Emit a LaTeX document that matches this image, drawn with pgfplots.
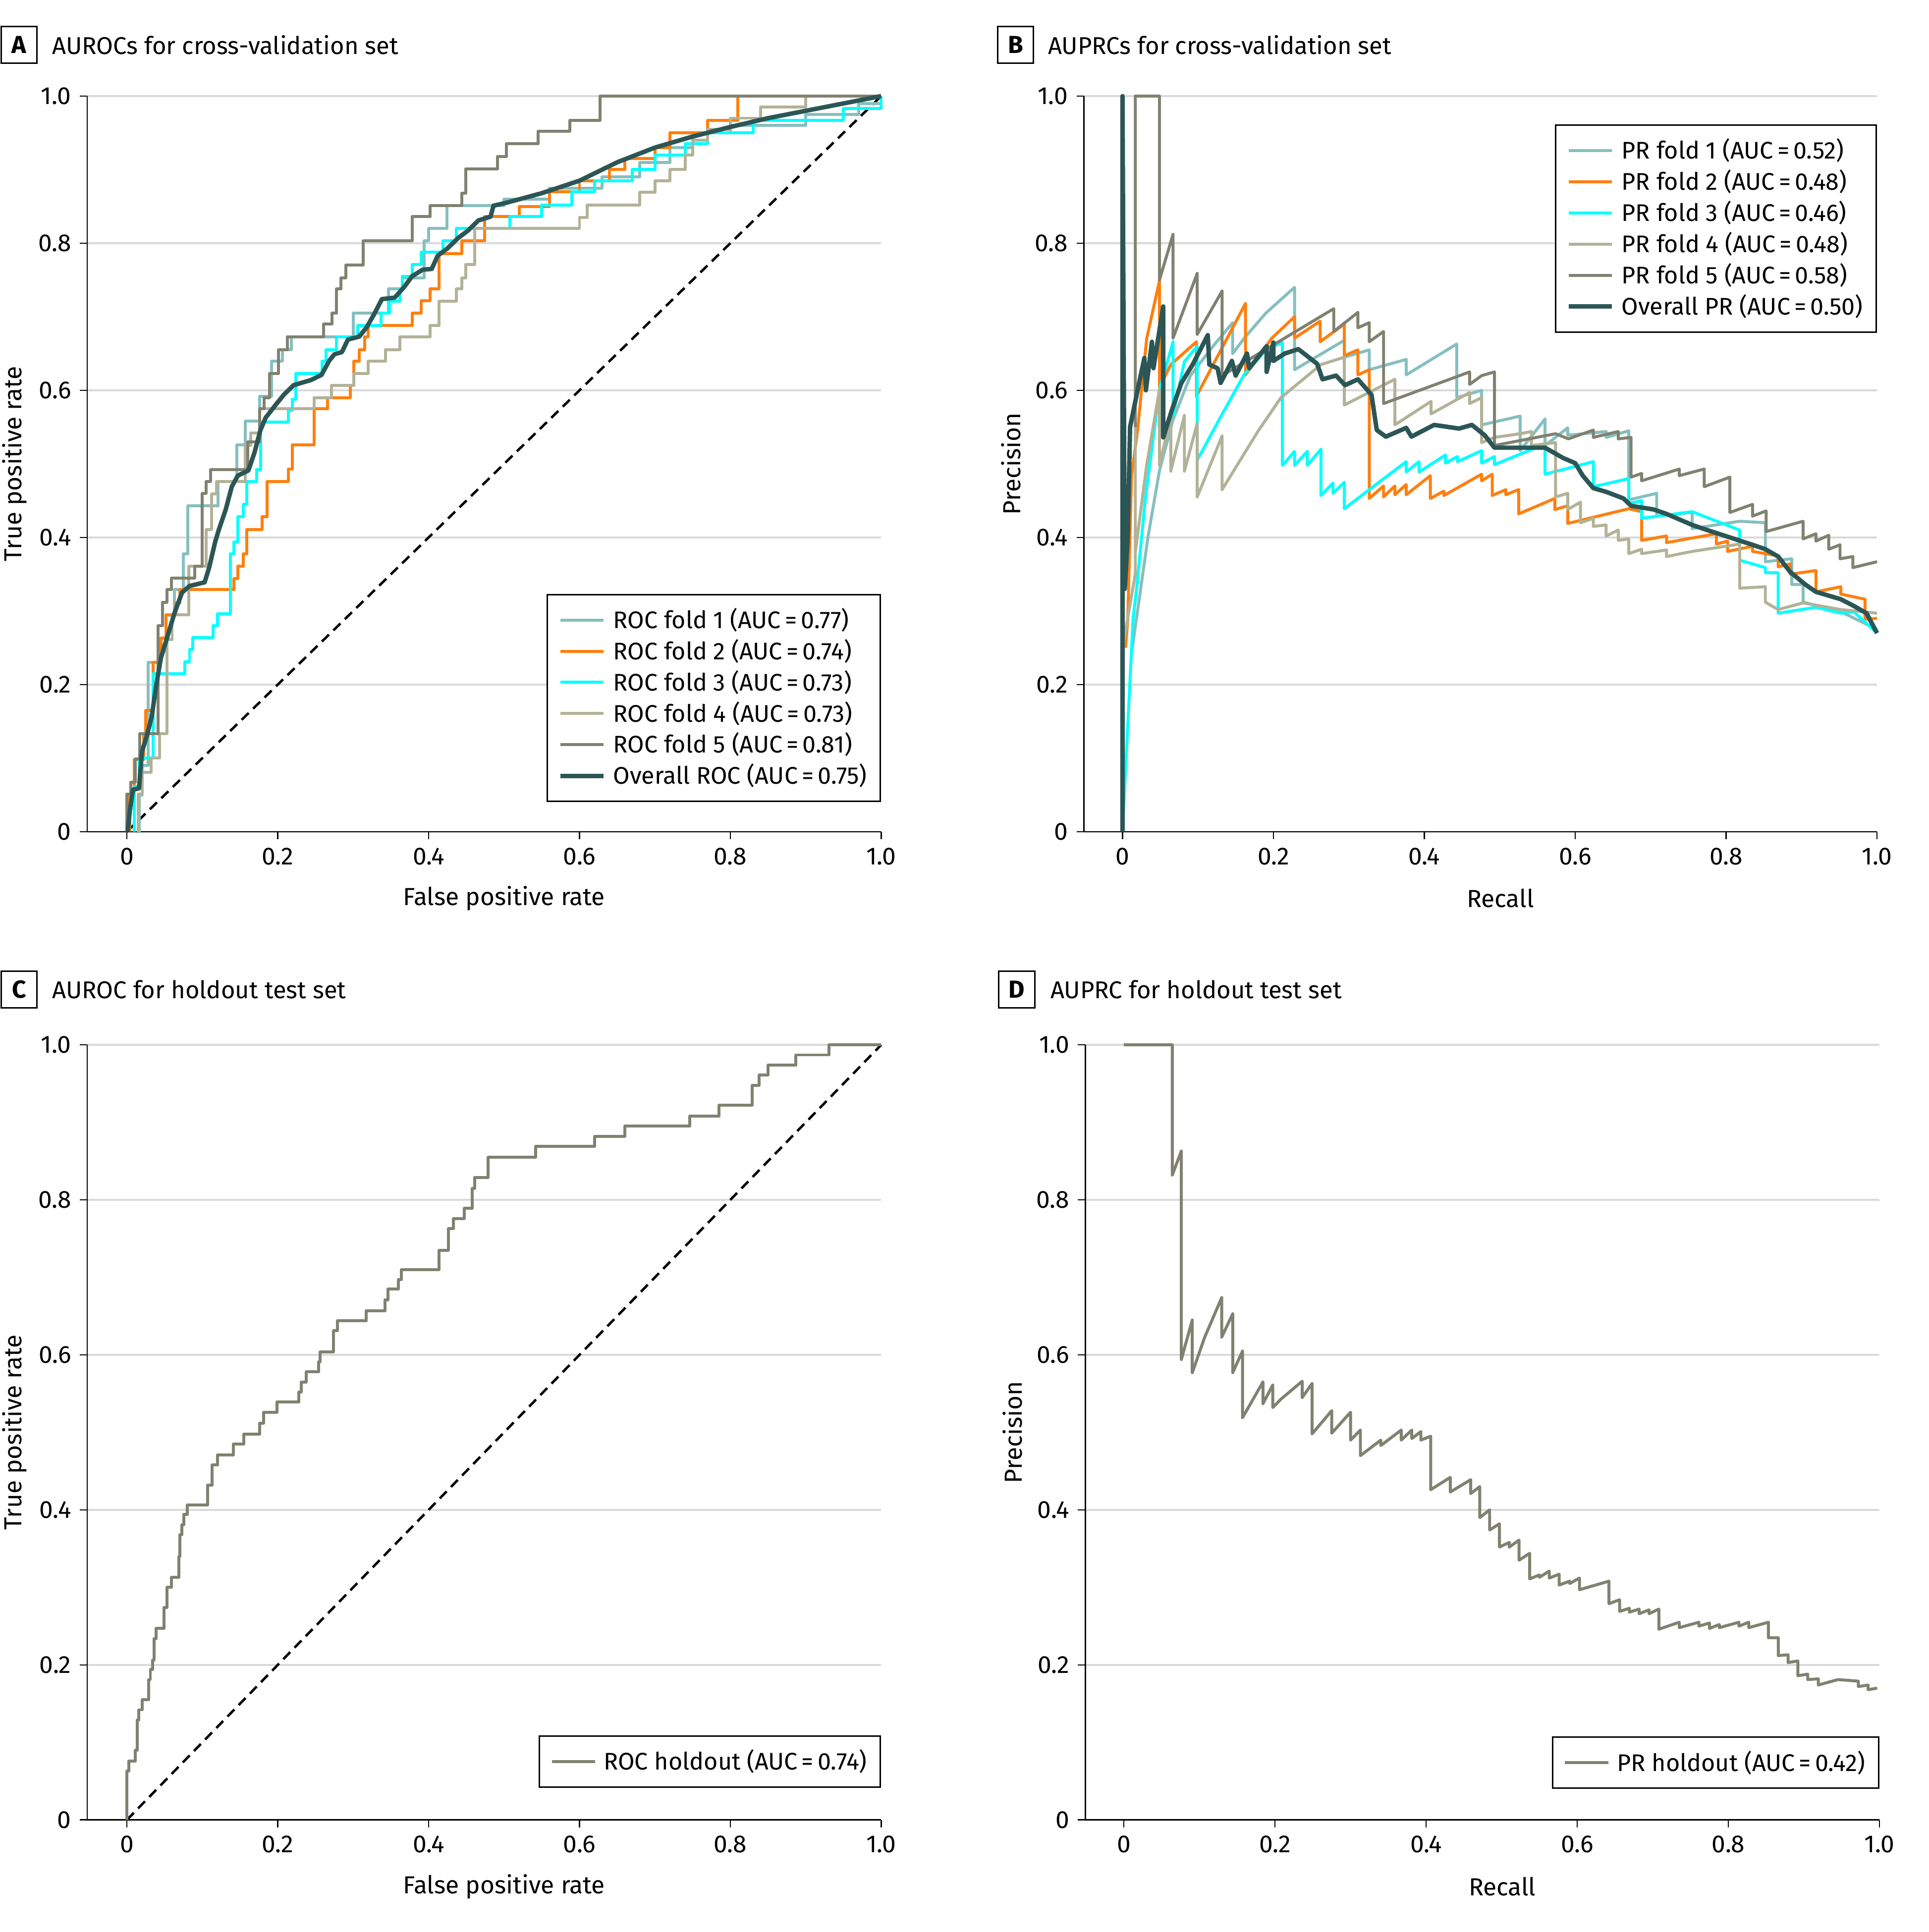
\documentclass[border=0pt]{standalone}
\usepackage{fontspec}
\setmainfont{Fira Sans}
\usepackage{pgfplots}
\pgfplotsset{compat=1.18}
\definecolor{cF1}{HTML}{86BFBF}
\definecolor{cF2}{HTML}{FF7F0E}
\definecolor{cF3}{HTML}{00FFFF}
\definecolor{cF4}{HTML}{B2B297}
\definecolor{cF5}{HTML}{818170}
\definecolor{cAll}{HTML}{2C5656}
\definecolor{gridc}{HTML}{D9D9D9}
\pgfplotsset{
 panel/.style={
  scale only axis,
  axis x line=bottom, axis y line=left,
  x axis line style={-}, y axis line style={-},
  axis line style={line width=0.5pt, black},
  xmax=1, ymin=0, ymax=1,
  xtick={0,0.2,0.4,0.6,0.8,1}, xticklabels={0,0.2,0.4,0.6,0.8,1.0},
  ytick={0,0.2,0.4,0.6,0.8,1}, yticklabels={0,0.2,0.4,0.6,0.8,1.0},
  tick align=outside, major tick length=3pt,
  tick style={black, line width=0.5pt},
  ymajorgrids, grid style={gridc, line width=0.8pt},
  tick label style={font=\fontsize{10}{12}\selectfont},
  label style={font=\fontsize{10}{12}\selectfont},
  xlabel style={at={(axis description cs:0.525,0)}, anchor=center, yshift=-27pt},
  ylabel style={at={(axis description cs:0,0.5)}, anchor=center, yshift=29.5pt},
  clip=false,
  legend cell align=left,
  legend image code/.code={\draw[##1] (0pt,0pt) -- (17.5pt,0pt);},
  legend style={draw=black, line width=0.6pt, fill=white, font=\fontsize{9.75}{11.5}\selectfont, inner xsep=4.5pt, inner ysep=4.5pt, row sep=0.9pt, column sep=2pt, nodes={inner sep=1pt}},
  /pgf/number format/assume math mode=true,
 },
 fold/.style={line width=1.2pt, line join=round},
 allc/.style={line width=1.8pt, line join=round, color=cAll},
 diag/.style={black, line width=1pt, dash pattern=on 4pt off 2.5pt, forget plot},
}
\begin{document}
\begin{tikzpicture}
\useasboundingbox (0,0) rectangle (782.5pt,784pt);
\tikzset{tbox/.style={draw, line width=0.6pt, minimum width=14.5pt, minimum height=14.8pt, inner sep=0pt, font=\fontsize{10}{12}\selectfont\bfseries},
 ttext/.style={anchor=base west, inner sep=0pt, font=\fontsize{9.85}{12}\selectfont}}
\node[tbox] at (7.7pt,765.75pt) {A};
\node[ttext] at (21pt,762.05pt) {AUROCs for cross-validation set};
\node[tbox] at (412pt,765.75pt) {B};
\node[ttext] at (425pt,762.05pt) {AUPRCs for cross-validation set};
\node[tbox] at (7.7pt,382.5pt) {C};
\node[ttext] at (21pt,378.8pt) {AUROC for holdout test set};
\node[tbox] at (412.5pt,382.5pt) {D};
\node[ttext] at (426pt,378.8pt) {AUPRC for holdout test set};

% ---------------- Panel A ----------------
\begin{axis}[panel, at={(35.4pt,446.5pt)}, anchor=south west, width=322.1pt, height=298.5pt, xmin=-0.0526,
 xlabel={False positive rate}, ylabel={True positive rate},
 legend style={at={(rel axis cs:1,0)}, anchor=south east, yshift=12pt}]
\addplot[diag] coordinates {(0,0) (1,1)};
\addplot[fold, cF1, const plot] coordinates {(0.013,0) (0.016,0.05) (0.020,0.09) (0.028,0.23) (0.043,0.246) (0.052,0.294) (0.063,0.329) (0.075,0.378) (0.081,0.443) (0.121,0.476) (0.146,0.526) (0.157,0.558) (0.176,0.592) (0.192,0.640) (0.206,0.655) (0.218,0.673) (0.300,0.705) (0.347,0.738) (0.365,0.753) (0.394,0.803) (0.400,0.820) (0.424,0.851) (0.50,0.86) (0.56,0.875) (0.63,0.89) (0.68,0.91) (0.72,0.93) (0.75,0.95) (0.80,0.96) (0.90,0.975) (0.97,0.99) (1.0,1.0)};
\addlegendentry{ROC fold 1 (AUC\,=\,0.77)}
\addplot[fold, cF2, const plot] coordinates {(0.004,0) (0.004,0.05) (0.010,0.098) (0.022,0.133) (0.025,0.165) (0.035,0.230) (0.045,0.263) (0.052,0.295) (0.065,0.311) (0.070,0.329) (0.142,0.344) (0.147,0.361) (0.154,0.378) (0.159,0.411) (0.179,0.428) (0.186,0.476) (0.214,0.493) (0.219,0.526) (0.248,0.575) (0.266,0.590) (0.296,0.607) (0.301,0.640) (0.308,0.655) (0.315,0.673) (0.320,0.688) (0.378,0.705) (0.390,0.722) (0.402,0.738) (0.414,0.786) (0.444,0.803) (0.474,0.836) (0.52,0.85) (0.56,0.87) (0.60,0.885) (0.64,0.90) (0.66,0.915) (0.70,0.93) (0.72,0.95) (0.77,0.967) (0.81,1.0) (1.0,1.0)};
\addlegendentry{ROC fold 2 (AUC\,=\,0.74)}
\addplot[fold, cF3, const plot] coordinates {(0.010,0) (0.010,0.061) (0.016,0.10) (0.035,0.215) (0.077,0.231) (0.083,0.248) (0.087,0.264) (0.114,0.280) (0.120,0.296) (0.137,0.378) (0.142,0.394) (0.147,0.428) (0.154,0.445) (0.159,0.476) (0.172,0.492) (0.177,0.557) (0.214,0.573) (0.219,0.588) (0.224,0.623) (0.259,0.640) (0.264,0.655) (0.278,0.673) (0.306,0.688) (0.337,0.705) (0.348,0.721) (0.362,0.738) (0.365,0.755) (0.378,0.771) (0.390,0.788) (0.419,0.803) (0.437,0.820) (0.508,0.836) (0.55,0.852) (0.59,0.87) (0.62,0.885) (0.67,0.90) (0.70,0.92) (0.74,0.935) (0.77,0.95) (0.83,0.967) (0.95,0.983) (1.0,1.0)};
\addlegendentry{ROC fold 3 (AUC\,=\,0.73)}
\addplot[fold, cF4, const plot] coordinates {(0.015,0) (0.015,0.051) (0.020,0.081) (0.032,0.100) (0.043,0.133) (0.053,0.261) (0.060,0.295) (0.082,0.361) (0.105,0.411) (0.112,0.459) (0.119,0.476) (0.157,0.525) (0.164,0.542) (0.176,0.575) (0.248,0.590) (0.271,0.607) (0.301,0.623) (0.320,0.640) (0.343,0.655) (0.362,0.673) (0.402,0.688) (0.414,0.721) (0.437,0.738) (0.444,0.753) (0.449,0.771) (0.461,0.820) (0.60,0.835) (0.61,0.852) (0.68,0.869) (0.70,0.885) (0.72,0.90) (0.74,0.92) (0.75,0.94) (0.77,0.955) (0.80,0.97) (0.84,0.985) (0.90,1.0) (1.0,1.0)};
\addlegendentry{ROC fold 4 (AUC\,=\,0.73)}
\addplot[fold, cF5, const plot] coordinates {(0,0) (0,0.051) (0.005,0.067) (0.011,0.099) (0.017,0.133) (0.041,0.280) (0.047,0.312) (0.053,0.329) (0.059,0.345) (0.090,0.361) (0.100,0.460) (0.105,0.476) (0.111,0.492) (0.16,0.53) (0.176,0.575) (0.182,0.590) (0.189,0.623) (0.201,0.655) (0.2125,0.673) (0.261,0.690) (0.272,0.705) (0.278,0.738) (0.284,0.753) (0.290,0.770) (0.313,0.803) (0.378,0.836) (0.402,0.851) (0.444,0.868) (0.449,0.901) (0.491,0.918) (0.503,0.935) (0.545,0.952) (0.587,0.967) (0.627,1.0) (1.0,1.0)};
\addlegendentry{ROC fold 5 (AUC\,=\,0.81)}
\addplot[allc] coordinates {(0.001,0) (0.004,0.03) (0.008,0.057) (0.016,0.059) (0.020,0.109) (0.026,0.129) (0.033,0.157) (0.038,0.194) (0.045,0.236) (0.053,0.263) (0.063,0.297) (0.073,0.325) (0.083,0.334) (0.103,0.339) (0.109,0.359) (0.117,0.394) (0.122,0.411) (0.131,0.438) (0.139,0.469) (0.147,0.484) (0.161,0.491) (0.169,0.515) (0.177,0.546) (0.184,0.563) (0.197,0.580) (0.208,0.594) (0.221,0.607) (0.244,0.614) (0.258,0.621) (0.268,0.640) (0.275,0.649) (0.285,0.652) (0.293,0.669) (0.308,0.673) (0.318,0.686) (0.328,0.704) (0.338,0.724) (0.355,0.726) (0.368,0.741) (0.378,0.755) (0.392,0.764) (0.404,0.765) (0.412,0.783) (0.425,0.793) (0.439,0.807) (0.452,0.817) (0.466,0.831) (0.482,0.836) (0.486,0.851) (0.503,0.855) (0.55,0.868) (0.6,0.885) (0.65,0.91) (0.7,0.93) (0.75,0.945) (0.8,0.958) (0.85,0.97) (0.9,0.98) (0.95,0.99) (1,1)};
\addlegendentry{Overall ROC (AUC\,=\,0.75)}
\end{axis}

% ---------------- Panel B ----------------
\begin{axis}[panel, at={(439.75pt,446.5pt)}, anchor=south west, width=321.75pt, height=298.5pt, xmin=-0.0511,
 xlabel={Recall}, ylabel={Precision},
 legend style={at={(rel axis cs:1,1)}, anchor=north east, yshift=-11.5pt}]
\addplot[fold, cF1] coordinates {(0.013,0.25) (0.034,0.402) (0.049,0.491) (0.067,0.56) (0.09,0.62) (0.12,0.66) (0.146,0.692) (0.146,0.65) (0.163,0.673) (0.19,0.705) (0.228,0.74) (0.228,0.628) (0.294,0.668) (0.294,0.645) (0.327,0.655) (0.327,0.628) (0.376,0.642) (0.376,0.621) (0.443,0.663) (0.443,0.59) (0.476,0.60) (0.476,0.553) (0.527,0.565) (0.527,0.518) (0.560,0.561) (0.560,0.525) (0.590,0.549) (0.590,0.539) (0.641,0.544) (0.641,0.536) (0.671,0.545) (0.671,0.451) (0.708,0.460) (0.708,0.429) (0.755,0.434) (0.755,0.412) (0.818,0.422) (0.852,0.420) (0.852,0.367) (0.887,0.371) (0.887,0.336) (0.902,0.336) (0.902,0.312) (0.95,0.30) (1.0,0.275)};
\addlegendentry{PR fold 1 (AUC\,=\,0.52)}
\addplot[fold, cF2] coordinates {(0.004,0.25) (0.007,0.289) (0.012,0.484) (0.020,0.546) (0.032,0.670) (0.049,0.749) (0.049,0.604) (0.064,0.635) (0.098,0.666) (0.098,0.592) (0.163,0.718) (0.163,0.621) (0.198,0.671) (0.228,0.700) (0.228,0.671) (0.262,0.694) (0.262,0.666) (0.294,0.690) (0.294,0.647) (0.312,0.655) (0.312,0.621) (0.327,0.628) (0.327,0.453) (0.346,0.470) (0.346,0.455) (0.361,0.470) (0.361,0.458) (0.376,0.472) (0.376,0.458) (0.408,0.484) (0.408,0.453) (0.426,0.463) (0.426,0.457) (0.476,0.486) (0.476,0.477) (0.490,0.486) (0.490,0.457) (0.508,0.465) (0.508,0.458) (0.525,0.465) (0.525,0.432) (0.573,0.453) (0.573,0.438) (0.590,0.443) (0.590,0.419) (0.671,0.439) (0.688,0.435) (0.688,0.396) (0.721,0.402) (0.721,0.393) (0.787,0.405) (0.787,0.391) (0.802,0.395) (0.802,0.381) (0.835,0.388) (0.835,0.381) (0.869,0.375) (0.869,0.360) (0.885,0.364) (0.885,0.350) (0.919,0.355) (0.919,0.326) (0.952,0.333) (0.952,0.323) (0.984,0.316) (0.984,0.289) (1.0,0.29)};
\addlegendentry{PR fold 2 (AUC\,=\,0.48)}
\addplot[fold, cF3] coordinates {(0.0,0.0) (0.014,0.289) (0.019,0.333) (0.03,0.45) (0.049,0.601) (0.067,0.666) (0.067,0.566) (0.082,0.639) (0.099,0.66) (0.099,0.505) (0.128,0.560) (0.161,0.621) (0.191,0.656) (0.212,0.665) (0.212,0.498) (0.228,0.517) (0.228,0.498) (0.245,0.517) (0.245,0.498) (0.263,0.520) (0.263,0.457) (0.279,0.474) (0.279,0.460) (0.294,0.475) (0.294,0.439) (0.327,0.465) (0.376,0.503) (0.376,0.489) (0.393,0.503) (0.393,0.489) (0.428,0.512) (0.428,0.501) (0.444,0.510) (0.444,0.503) (0.476,0.518) (0.476,0.501) (0.493,0.510) (0.493,0.499) (0.560,0.527) (0.560,0.486) (0.624,0.503) (0.624,0.469) (0.671,0.48) (0.671,0.446) (0.688,0.450) (0.688,0.426) (0.755,0.435) (0.818,0.41) (0.818,0.369) (0.852,0.359) (0.852,0.352) (0.869,0.352) (0.869,0.297) (0.919,0.305) (0.952,0.297) (0.969,0.299) (1.0,0.27)};
\addlegendentry{PR fold 3 (AUC\,=\,0.46)}
\addplot[fold, cF4] coordinates {(0.0,0.25) (0.017,0.35) (0.017,1.0) (0.017,0.38) (0.032,0.498) (0.049,0.601) (0.049,0.498) (0.064,0.565) (0.064,0.49) (0.082,0.566) (0.082,0.49) (0.099,0.555) (0.099,0.455) (0.132,0.538) (0.132,0.465) (0.18,0.545) (0.21,0.59) (0.263,0.635) (0.294,0.645) (0.294,0.58) (0.361,0.615) (0.361,0.553) (0.409,0.585) (0.409,0.568) (0.46,0.597) (0.46,0.582) (0.476,0.59) (0.476,0.529) (0.493,0.536) (0.527,0.541) (0.542,0.544) (0.542,0.525) (0.574,0.529) (0.574,0.455) (0.590,0.460) (0.590,0.438) (0.607,0.448) (0.607,0.420) (0.624,0.426) (0.624,0.415) (0.641,0.417) (0.641,0.402) (0.657,0.410) (0.657,0.396) (0.671,0.398) (0.671,0.378) (0.688,0.384) (0.688,0.378) (0.721,0.383) (0.721,0.374) (0.755,0.381) (0.818,0.391) (0.818,0.331) (0.852,0.333) (0.852,0.312) (0.869,0.302) (0.902,0.311) (0.952,0.302) (1.0,0.297)};
\addlegendentry{PR fold 4 (AUC\,=\,0.48)}
\addplot[fold, cF5] coordinates {(0.017,0.55) (0.017,1.0) (0.049,1.0) (0.049,0.750) (0.067,0.812) (0.067,0.671) (0.099,0.759) (0.099,0.676) (0.132,0.735) (0.132,0.62) (0.28,0.711) (0.28,0.680) (0.312,0.706) (0.312,0.685) (0.327,0.692) (0.327,0.666) (0.346,0.680) (0.346,0.582) (0.460,0.625) (0.460,0.608) (0.476,0.620) (0.493,0.625) (0.493,0.525) (0.574,0.541) (0.591,0.534) (0.624,0.546) (0.624,0.536) (0.657,0.544) (0.657,0.534) (0.674,0.536) (0.674,0.482) (0.688,0.487) (0.688,0.477) (0.738,0.493) (0.738,0.484) (0.771,0.493) (0.771,0.469) (0.805,0.482) (0.805,0.434) (0.835,0.445) (0.835,0.429) (0.853,0.436) (0.853,0.408) (0.902,0.422) (0.902,0.398) (0.919,0.405) (0.919,0.395) (0.936,0.403) (0.936,0.384) (0.951,0.390) (0.951,0.371) (0.968,0.374) (0.968,0.359) (1.0,0.367)};
\addlegendentry{PR fold 5 (AUC\,=\,0.58)}
\addplot[allc] coordinates {(0,0) (0,1.0) (0.003,0.33) (0.007,0.40) (0.01,0.55) (0.02,0.60) (0.029,0.644) (0.031,0.60) (0.039,0.666) (0.041,0.63) (0.054,0.714) (0.054,0.536) (0.066,0.575) (0.078,0.61) (0.093,0.635) (0.113,0.675) (0.115,0.635) (0.126,0.63) (0.13,0.61) (0.145,0.64) (0.15,0.62) (0.165,0.65) (0.168,0.63) (0.191,0.66) (0.191,0.625) (0.2,0.665) (0.2,0.64) (0.215,0.65) (0.233,0.656) (0.258,0.636) (0.265,0.615) (0.283,0.62) (0.295,0.607) (0.312,0.615) (0.33,0.594) (0.337,0.546) (0.349,0.537) (0.376,0.549) (0.383,0.537) (0.413,0.553) (0.446,0.548) (0.463,0.553) (0.48,0.539) (0.493,0.522) (0.503,0.522) (0.560,0.522) (0.584,0.508) (0.600,0.501) (0.610,0.484) (0.624,0.467) (0.641,0.462) (0.664,0.453) (0.674,0.443) (0.704,0.438) (0.721,0.432) (0.755,0.417) (0.775,0.410) (0.805,0.400) (0.835,0.390) (0.852,0.384) (0.869,0.374) (0.885,0.353) (0.905,0.336) (0.919,0.326) (0.952,0.316) (0.969,0.307) (0.986,0.297) (1.0,0.27)};
\addlegendentry{Overall PR (AUC\,=\,0.50)}
\end{axis}

% ---------------- Panel C ----------------
\begin{axis}[panel, at={(35.4pt,45.5pt)}, anchor=south west, width=322.1pt, height=314.5pt, xmin=-0.0526,
 xlabel={False positive rate}, ylabel={True positive rate},
 legend style={at={(rel axis cs:1,0)}, anchor=south east, yshift=13pt}]
\addplot[diag] coordinates {(0,0) (1,1)};
\addplot[fold, cF5, const plot] coordinates {(0,0) (0,0.063) (0.0026,0.076) (0.0113,0.090) (0.0139,0.129) (0.0159,0.142) (0.0205,0.155) (0.0291,0.181) (0.0311,0.194) (0.0338,0.206) (0.0358,0.234) (0.0384,0.247) (0.049,0.274) (0.053,0.300) (0.059,0.313) (0.069,0.340) (0.070,0.368) (0.073,0.381) (0.0755,0.394) (0.080,0.406) (0.107,0.432) (0.113,0.458) (0.120,0.471) (0.141,0.485) (0.155,0.498) (0.176,0.512) (0.181,0.526) (0.199,0.539) (0.228,0.552) (0.231,0.565) (0.238,0.578) (0.254,0.591) (0.256,0.604) (0.274,0.631) (0.279,0.644) (0.317,0.657) (0.342,0.671) (0.346,0.685) (0.360,0.697) (0.364,0.710) (0.414,0.735) (0.426,0.763) (0.433,0.776) (0.447,0.789) (0.458,0.815) (0.461,0.829) (0.479,0.855) (0.542,0.869) (0.620,0.882) (0.660,0.895) (0.746,0.908) (0.785,0.922) (0.829,0.948) (0.838,0.961) (0.850,0.974) (0.887,0.987) (0.931,1.0) (1.0,1.0)};
\addlegendentry{ROC holdout (AUC\,=\,0.74)}
\end{axis}

% ---------------- Panel D ----------------
\begin{axis}[panel, at={(440.3pt,45.5pt)}, anchor=south west, width=322.2pt, height=314.5pt, xmin=-0.0511,
 xlabel={Recall}, ylabel={Precision},
 legend style={at={(rel axis cs:1,0)}, anchor=south east, yshift=12.5pt}]
\addplot[fold, cF5] coordinates {(0,1.0) (0.064,1.0) (0.064,0.832) (0.076,0.863) (0.076,0.594) (0.0905,0.645) (0.0905,0.577) (0.107,0.623) (0.1295,0.674) (0.1295,0.623) (0.144,0.653) (0.144,0.577) (0.157,0.605) (0.157,0.519) (0.184,0.565) (0.184,0.537) (0.197,0.561) (0.197,0.532) (0.208,0.543) (0.236,0.566) (0.236,0.545) (0.249,0.563) (0.249,0.498) (0.275,0.528) (0.275,0.499) (0.300,0.526) (0.300,0.490) (0.313,0.503) (0.313,0.470) (0.340,0.490) (0.340,0.483) (0.367,0.503) (0.367,0.490) (0.381,0.503) (0.381,0.492) (0.393,0.501) (0.393,0.490) (0.406,0.495) (0.406,0.426) (0.432,0.442) (0.432,0.423) (0.459,0.439) (0.459,0.421) (0.471,0.430) (0.471,0.390) (0.484,0.400) (0.484,0.374) (0.497,0.382) (0.497,0.352) (0.510,0.358) (0.510,0.352) (0.523,0.361) (0.523,0.335) (0.537,0.344) (0.537,0.311) (0.550,0.316) (0.550,0.313) (0.563,0.321) (0.563,0.312) (0.576,0.317) (0.576,0.303) (0.590,0.308) (0.590,0.305) (0.603,0.312) (0.603,0.297) (0.642,0.308) (0.642,0.279) (0.656,0.284) (0.656,0.269) (0.669,0.273) (0.669,0.268) (0.682,0.272) (0.682,0.266) (0.695,0.271) (0.695,0.266) (0.708,0.272) (0.708,0.246) (0.735,0.255) (0.735,0.248) (0.761,0.255) (0.761,0.250) (0.775,0.254) (0.775,0.247) (0.788,0.252) (0.788,0.248) (0.814,0.255) (0.814,0.250) (0.827,0.255) (0.827,0.248) (0.853,0.255) (0.853,0.235) (0.866,0.235) (0.866,0.212) (0.879,0.213) (0.879,0.203) (0.892,0.205) (0.892,0.186) (0.905,0.188) (0.905,0.181) (0.919,0.182) (0.919,0.174) (0.945,0.181) (0.972,0.179) (0.972,0.172) (0.985,0.174) (0.985,0.168) (0.997,0.170)};
\addlegendentry{PR holdout (AUC\,=\,0.42)}
\end{axis}
\end{tikzpicture}
\end{document}
